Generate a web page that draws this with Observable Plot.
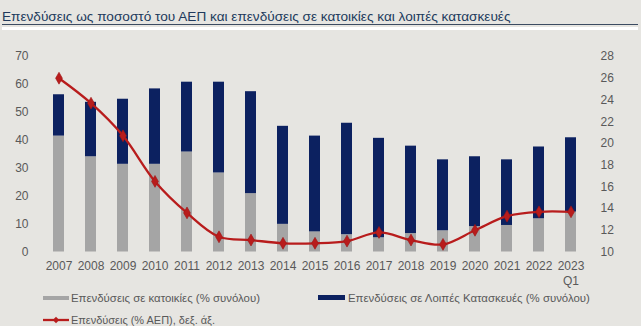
<!DOCTYPE html>
<html>
<head>
<meta charset="utf-8">
<script src="https://cdn.jsdelivr.net/npm/d3@7"></script>
<script src="https://cdn.jsdelivr.net/npm/@observablehq/plot@0.6"></script>
<style>
  html, body { margin: 0; padding: 0; }
  body { width: 641px; height: 326px; background: #e6e5e1; position: relative; overflow: hidden;
         font-family: "Liberation Sans", Arial, sans-serif; color: #595959; }
  #titlebox { position: absolute; left: 2px; top: 9px; width: 636px; height: 15px;
              border-bottom: 1px solid #3b4b61; }
  #title { position: absolute; left: 0; top: 0; font-size: 12.9px; line-height: 15px; color: #213a5c; white-space: nowrap; }
  #titlewhite { position: absolute; left: 2px; top: 27px; width: 636px; height: 3px; background: #ffffff; }
  #chart { position: absolute; left: 0; top: 40px; }
  .leg { position: absolute; font-size: 11.4px; line-height: 14px; white-space: nowrap; color: #595959; }
  .sw { position: absolute; }
</style>
</head>
<body>
<div id="titlebox"><span id="title" data-w="508">Επενδύσεις ως ποσοστό του ΑΕΠ και επενδύσεις σε κατοικίες και λοιπές κατασκευές</span></div>
<div id="titlewhite"></div>
<div id="chart"></div>
<div id="legend"></div>
<script>
const years = ["2007","2008","2009","2010","2011","2012","2013","2014","2015","2016","2017","2018","2019","2020","2021","2022","2023 Q1"];
const housing = [41.5, 34.1, 31.4, 31.4, 35.8, 28.3, 20.9, 9.9, 7.2, 6.2, 5.1, 6.6, 7.6, 9.1, 9.5, 11.9, 14.3];
const otherCons = [14.8, 19.5, 23.3, 27.0, 25.0, 32.5, 36.5, 35.1, 34.3, 39.9, 35.6, 31.3, 25.4, 25.0, 23.5, 25.7, 26.6];
const investGdp = [26.0, 23.7, 20.7, 16.5, 13.6, 11.4, 11.1, 10.8, 10.8, 11.0, 11.8, 11.1, 10.7, 12.0, 13.3, 13.7, 13.7];
const leftTicks = [0, 10, 20, 30, 40, 50, 60, 70];
const rightTicks = [10, 12, 14, 16, 18, 20, 22, 24, 26, 28];
const seriesNames = ["Επενδύσεις σε κατοικίες (% συνόλου)", "Επενδύσεις σε Λοιπές Κατασκευές (% συνόλου)", "Επενδύσεις (% ΑΕΠ), δεξ. άξ."];

const colGray = "#a5a5a5", colNavy = "#0c2160", colRed = "#b81c1c";

const rows = years.map((y, i) => ({year: y, housing: housing[i], other: otherCons[i], gdp: investGdp[i]}));
// right axis 10..28 mapped onto left 0..70
const toLeft = r => (r - 10) * 70 / 18;
const toRight = l => l * 18 / 70 + 10;

const plot = Plot.plot({
  width: 641,
  height: 250,
  marginTop: 16,
  marginBottom: 38.5,
  marginLeft: 39,
  marginRight: 51,
  style: {fontFamily: '"Liberation Sans", Arial, sans-serif', fontSize: "12px", color: "#595959", background: "transparent"},
  x: {type: "band", domain: years, paddingInner: 0.67, paddingOuter: 0.335, label: null},
  y: {domain: [0, 70], label: null},
  marks: [
    Plot.barY(rows, {x: "year", y1: 0, y2: "housing", fill: colGray}),
    Plot.barY(rows, {x: "year", y1: "housing", y2: d => d.housing + d.other, fill: colNavy}),
    Plot.line(rows, {x: "year", y: d => toLeft(d.gdp), stroke: colRed, strokeWidth: 2.3, curve: "catmull-rom"}),
    Plot.dot(rows, {x: "year", y: d => toLeft(d.gdp), symbol: "diamond", r: 3.6, fill: colRed, stroke: "#9e1414", strokeWidth: 0.6}),
    Plot.axisY(leftTicks, {anchor: "left", tickSize: 0, tickPadding: 11, label: null}),
    Plot.axisY(rightTicks.map(toLeft), {anchor: "right", tickSize: 0, tickPadding: 10, label: null,
      tickFormat: d => String(Math.round(toRight(d)))}),
    Plot.axisX({tickSize: 0, tickPadding: 7, label: null, lineHeight: 1.25, tickFormat: d => d.replace(" ", "\n")})
  ]
});
document.getElementById("chart").appendChild(plot);

// legend
const lg = document.getElementById("legend");
lg.innerHTML = `
  <div class="sw" style="left:43px;top:296px;width:26px;height:4px;background:${colGray}"></div>
  <span class="leg" data-w="189" style="left:71px;top:291px">${seriesNames[0]}</span>
  <div class="sw" style="left:318px;top:295px;width:27px;height:5px;background:${colNavy}"></div>
  <span class="leg" data-w="242" style="left:348px;top:291px">${seriesNames[1]}</span>
  <svg class="sw" style="left:43px;top:314px" width="26" height="12">
    <line x1="0" y1="6" x2="26" y2="6" stroke="${colRed}" stroke-width="2.3"/>
    <path d="M13,2.8 L16.2,6 L13,9.2 L9.8,6 Z" fill="${colRed}"/>
  </svg>
  <span class="leg" data-w="144" style="left:71px;top:313px">${seriesNames[2]}</span>
`;

// fit text widths to the reference layout
document.querySelectorAll("[data-w]").forEach(el => {
  const target = +el.dataset.w;
  const fs = parseFloat(getComputedStyle(el).fontSize);
  const w = el.getBoundingClientRect().width;
  if (w > 0) el.style.fontSize = (fs * target / w).toFixed(2) + "px";
});
</script>
</body>
</html>
